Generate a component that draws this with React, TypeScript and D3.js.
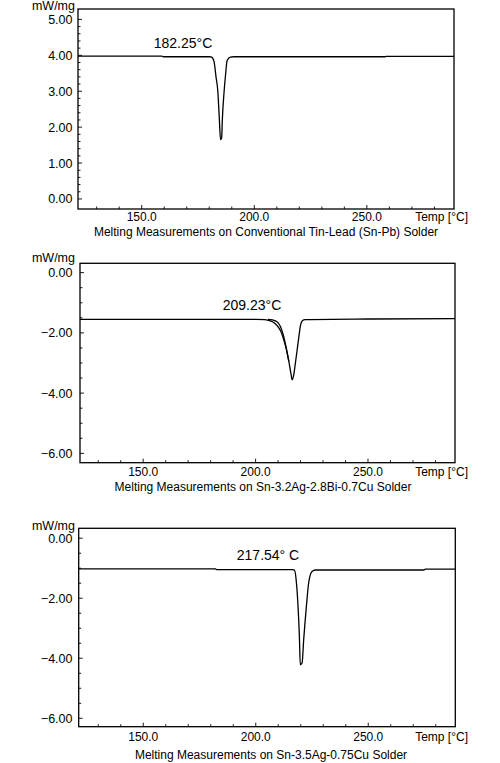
import React from "react";
import * as d3 from "d3";

// ---------- data ----------
const p1Temp = [121.7, 159, 159.5, 180.2, 181.1, 182.1, 183.0, 183.8, 184.5, 185.0, 185.5, 185.8, 186.6, 187.3, 187.9, 189.3, 191, 258, 258.5, 288.7];
const p1Value = [3.98, 3.98, 3.96, 3.96, 3.95, 3.83, 3.4, 3.0, 2.2, 1.65, 1.7, 2.2, 3.0, 3.5, 3.85, 3.95, 3.96, 3.96, 3.97, 3.97];

const p2TempA = [121.9, 200, 204.1, 206.5, 208.5, 210.2, 211.5, 212.8, 213.8, 214.8, 215.7, 216.3, 217.0, 217.8, 218.6, 219.3, 220.0, 220.8, 222, 250, 288.7];
const p2ValueA = [-1.55, -1.55, -1.56, -1.6, -1.68, -1.82, -2.0, -2.3, -2.57, -2.95, -3.34, -3.56, -3.38, -2.95, -2.5, -2.1, -1.74, -1.6, -1.56, -1.54, -1.53];
const p2TempB = [205.5, 207.5, 209.5, 211, 212.5, 213.8, 214.8];
const p2ValueB = [-1.55, -1.57, -1.63, -1.78, -2.12, -2.57, -2.95];

const p3Temp = [121.3, 182.1, 182.6, 216.5, 217.3, 218.1, 218.8, 219.4, 219.8, 220.6, 221.3, 222.5, 223.5, 225.0, 226.5, 274.8, 275.3, 288.7];
const p3Value = [-1.02, -1.02, -1.05, -1.05, -1.08, -1.5, -2.28, -3.28, -4.22, -4.16, -3.39, -2.28, -1.5, -1.11, -1.06, -1.06, -1.03, -1.03];

const xMajorTicks = [150, 200, 250];
const xMinorTicks = [130, 140, 150, 160, 170, 180, 190, 200, 210, 220, 230, 240, 250, 260, 270, 280];
const p1YMajor = [0, 1, 2, 3, 4, 5];
const p1YMinor = d3.range(0, 26).map((i) => i * 0.2);
const p23YMajor = [0, -2, -4, -6];
const p23YMinor = d3.range(0, 13).map((i) => -i * 0.5);

const titles = [
  "Melting Measurements on Conventional Tin-Lead (Sn-Pb) Solder",
  "Melting Measurements on Sn-3.2Ag-2.8Bi-0.7Cu Solder",
  "Melting Measurements on Sn-3.5Ag-0.75Cu Solder",
];
const peakLabels = ["182.25°C", "209.23°C", "217.54° C"];

// ---------- layout ----------
const FONT = "'Liberation Sans', Arial, sans-serif";

type Series = { t: number[]; v: number[] };
type PanelCfg = {
  left: number; right: number; top: number; bottom: number;
  xDom: [number, number]; yDom: [number, number];
  yMajor: number[]; yMinor: number[]; fmt: (v: number) => string;
  series: Series[]; title: string; titleX: number; tickY: number; titleY: number;
  unitY: number; peak: string; peakX: number; peakY: number;
};

const fmtY = (v: number) => (v < 0 ? "\u2212" + Math.abs(v).toFixed(2) : v.toFixed(2));

const panels: PanelCfg[] = [
  {
    left: 78, right: 454, top: 9, bottom: 209,
    xDom: [121.7, 288.7], yDom: [-0.28, 5.29],
    yMajor: p1YMajor, yMinor: p1YMinor, fmt: fmtY,
    series: [{ t: p1Temp, v: p1Value }],
    title: titles[0], titleX: 266, tickY: 221, titleY: 236, unitY: 9.8,
    peak: peakLabels[0], peakX: 183, peakY: 48,
  },
  {
    left: 80, right: 455, top: 263.3, bottom: 462.7,
    xDom: [121.9, 288.7], yDom: [-6.31, 0.31],
    yMajor: p23YMajor, yMinor: p23YMinor, fmt: fmtY,
    series: [{ t: p2TempA, v: p2ValueA }, { t: p2TempB, v: p2ValueB }],
    title: titles[1], titleX: 263, tickY: 476, titleY: 491, unitY: 261.5,
    peak: peakLabels[1], peakX: 252, peakY: 310,
  },
  {
    left: 78.7, right: 455.3, top: 528.3, bottom: 726.7,
    xDom: [121.3, 288.7], yDom: [-6.28, 0.33],
    yMajor: p23YMajor, yMinor: p23YMinor, fmt: fmtY,
    series: [{ t: p3Temp, v: p3Value }],
    title: titles[2], titleX: 271, tickY: 741, titleY: 759, unitY: 529.5,
    peak: peakLabels[2], peakX: 268, peakY: 560,
  },
];

function Panel({ p }: { p: PanelCfg }) {
  const x = d3.scaleLinear().domain(p.xDom).range([p.left, p.right]);
  const y = d3.scaleLinear().domain(p.yDom).range([p.bottom, p.top]);
  const line = d3
    .line<[number, number]>()
    .x((d) => x(d[0]))
    .y((d) => y(d[1]))
    .curve(d3.curveMonotoneX);
  return (
    <g>
      <rect x={p.left} y={p.top} width={p.right - p.left} height={p.bottom - p.top}
        fill="none" stroke="#000" strokeWidth={1.3} />
      {p.yMinor.filter((v) => v >= p.yDom[0] && v <= p.yDom[1]).map((v, i) => (
        <line key={"ym" + i} x1={p.left} x2={p.left + (p.yMajor.includes(v) ? 4 : 2.5)}
          y1={y(v)} y2={y(v)} stroke="#000" strokeWidth={0.9} />
      ))}
      {p.yMajor.map((v, i) => (
        <text key={"yl" + i} x={72.5} y={y(v)} dy="0.36em" textAnchor="end"
          fontSize={12.5} fontFamily={FONT} fill="#000">{p.fmt(v)}</text>
      ))}
      {xMinorTicks.map((t, i) => (
        <line key={"xm" + i} x1={x(t)} x2={x(t)} y1={p.bottom}
          y2={p.bottom - (xMajorTicks.includes(t) ? 4 : 2.5)} stroke="#000" strokeWidth={0.9} />
      ))}
      {xMajorTicks.map((t, i) => (
        <text key={"xl" + i} x={x(t)} y={p.tickY} textAnchor="middle"
          fontSize={12} fontFamily={FONT} fill="#000">{t.toFixed(1)}</text>
      ))}
      <text x={468} y={p.tickY} textAnchor="end" fontSize={12} fontFamily={FONT} fill="#000">
        Temp [°C]
      </text>
      <text x={75} y={p.unitY} textAnchor="end" fontSize={12.5} fontFamily={FONT} fill="#000">
        mW/mg
      </text>
      <text x={p.titleX} y={p.titleY} textAnchor="middle" fontSize={12} fontFamily={FONT} fill="#000">
        {p.title}
      </text>
      <text x={p.peakX} y={p.peakY} textAnchor="middle" fontSize={14} fontFamily={FONT} fill="#000">
        {p.peak}
      </text>
      {p.series.map((s, i) => (
        <path key={"s" + i}
          d={line(s.t.map((t, j) => [t, s.v[j]] as [number, number])) || ""}
          fill="none" stroke="#000" strokeWidth={1.3} strokeLinejoin="round" />
      ))}
    </g>
  );
}

export default function App() {
  return (
    <svg width={500} height={763} style={{ position: "absolute", left: 0, top: 0, background: "#fff" }}>
      <rect x={0} y={0} width={500} height={763} fill="#fff" />
      {panels.map((p, i) => (
        <Panel key={i} p={p} />
      ))}
    </svg>
  );
}
